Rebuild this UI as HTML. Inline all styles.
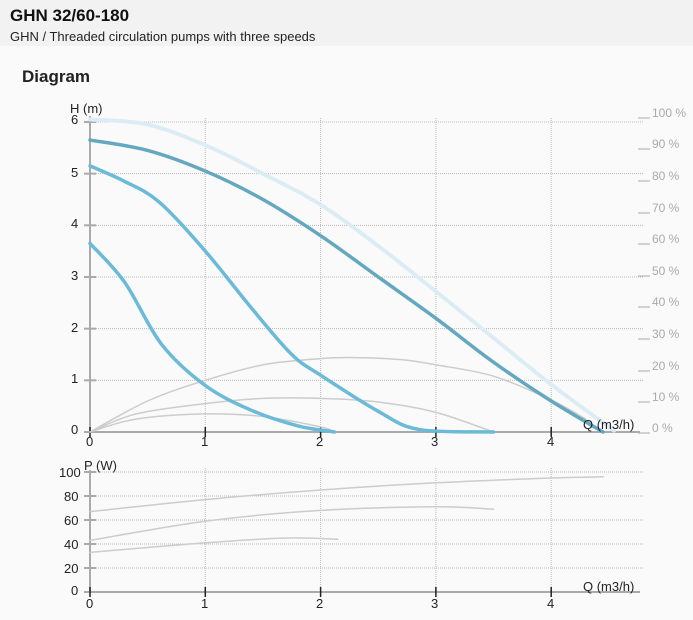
<!DOCTYPE html>
<html><head><meta charset="utf-8"><style>
body{margin:0;width:693px;height:620px;background:#fafafa;font-family:"Liberation Sans",Arial,sans-serif;overflow:hidden}
.hd{position:absolute;left:0;top:0;width:693px;height:46px;background:#f2f2f2}
.t1{position:absolute;left:10px;top:6px;font-size:17px;font-weight:bold;color:#111}
.t2{position:absolute;left:10px;top:29px;font-size:13px;color:#222}
.t3{position:absolute;left:22px;top:67px;font-size:17px;font-weight:bold;color:#222}
svg{position:absolute;left:0;top:0}
</style></head><body>
<div class="hd"></div>
<div class="t1">GHN 32/60-180</div>
<div class="t2">GHN / Threaded circulation pumps with three speeds</div>
<div class="t3">Diagram</div>
<svg width="693" height="620" font-family="Liberation Sans, Arial, sans-serif">
<g id="grid" stroke="#bbb" stroke-dasharray="1,1" stroke-width="1" fill="none"></g>
<g id="axes"></g>
<g id="curves" fill="none" stroke-linejoin="round" stroke-linecap="round"></g>
<g font-size="13" fill="#222">
<text x="70" y="113">H (m)</text>
<text x="71" y="124">6</text><text x="71" y="177">5</text><text x="71" y="228">4</text><text x="71" y="280">3</text><text x="71" y="332">2</text><text x="71" y="383">1</text><text x="71" y="434">0</text>
<text x="86" y="446">0</text><text x="201" y="446">1</text><text x="316" y="446">2</text><text x="431" y="446">3</text><text x="547" y="446">4</text>
<text x="583" y="429">Q (m3/h)</text>
<text x="84" y="470">P (W)</text>
<text x="59" y="477">100</text><text x="64" y="501">80</text><text x="64" y="525">60</text><text x="64" y="549">40</text><text x="64" y="573">20</text><text x="71" y="595">0</text>
<text x="86" y="608">0</text><text x="201" y="608">1</text><text x="316" y="608">2</text><text x="431" y="608">3</text><text x="547" y="608">4</text>
<text x="583" y="591">Q (m3/h)</text>
</g>
<g font-size="12" fill="#aaa">
<text x="652" y="117">100 %</text><text x="652" y="148">90 %</text><text x="652" y="180">80 %</text><text x="652" y="212">70 %</text><text x="652" y="243">60 %</text><text x="652" y="275">50 %</text><text x="652" y="306">40 %</text><text x="652" y="338">30 %</text><text x="652" y="370">20 %</text><text x="652" y="401">10 %</text><text x="652" y="432">0 %</text>
</g>
<g stroke="#aaa" stroke-width="1">
<line x1="638" y1="118" x2="650" y2="118"/><line x1="638" y1="149" x2="650" y2="149"/><line x1="638" y1="181" x2="650" y2="181"/><line x1="638" y1="213" x2="650" y2="213"/><line x1="638" y1="244" x2="650" y2="244"/><line x1="638" y1="276" x2="650" y2="276"/><line x1="638" y1="307" x2="650" y2="307"/><line x1="638" y1="339" x2="650" y2="339"/><line x1="638" y1="371" x2="650" y2="371"/><line x1="638" y1="402" x2="650" y2="402"/><line x1="638" y1="433" x2="650" y2="433"/>
</g>
</svg>
<script>
var NS="http://www.w3.org/2000/svg";
function el(p,t,a){var e=document.createElementNS(NS,t);for(var k in a)e.setAttribute(k,a[k]);document.getElementById(p).appendChild(e);return e;}
var X=function(q){return 90+115.3*q};
var Y=function(h){return 432-51.67*h};
var YP=function(p){return 592-1.2*p};
for(var i=1;i<=6;i++)el("grid","line",{x1:90,y1:Y(i),x2:643,y2:Y(i)});
for(var i=1;i<=4;i++)el("grid","line",{x1:X(i),y1:118,x2:X(i),y2:432});
for(var i=1;i<=5;i++)el("grid","line",{x1:90,y1:YP(i*20),x2:643,y2:YP(i*20)});
for(var i=1;i<=4;i++)el("grid","line",{x1:X(i),y1:468,x2:X(i),y2:592});
el("axes","line",{x1:90,y1:116,x2:90,y2:433,stroke:"#aaa","stroke-width":2});
el("axes","line",{x1:89,y1:432,x2:640,y2:432,stroke:"#aaa","stroke-width":2});
el("axes","line",{x1:90,y1:470,x2:90,y2:593,stroke:"#aaa","stroke-width":2});
el("axes","line",{x1:89,y1:592,x2:640,y2:592,stroke:"#aaa","stroke-width":2});
for(var i=0;i<=6;i++)el("axes","line",{x1:84,y1:Y(i),x2:96,y2:Y(i),stroke:"#aaa","stroke-width":2});
for(var i=0;i<=5;i++)el("axes","line",{x1:84,y1:YP(i*20),x2:96,y2:YP(i*20),stroke:"#aaa","stroke-width":2});
for(var i=0;i<=4;i++){el("axes","line",{x1:X(i),y1:427,x2:X(i),y2:437,stroke:"#222","stroke-width":1.5});el("axes","line",{x1:X(i),y1:587,x2:X(i),y2:597,stroke:"#222","stroke-width":1.5});}
function path(pts,fy,st){
 var P=pts.map(function(p){return [X(p[0]),fy(p[1])]});
 var d="M"+P[0][0]+","+P[0][1];
 for(var i=0;i<P.length-1;i++){var p0=P[i-1]||P[i],p1=P[i],p2=P[i+1],p3=P[i+2]||p2;
  d+=" C"+(p1[0]+(p2[0]-p0[0])/6)+","+(p1[1]+(p2[1]-p0[1])/6)+" "+(p2[0]-(p3[0]-p1[0])/6)+","+(p2[1]-(p3[1]-p1[1])/6)+" "+p2[0]+","+p2[1];}
 st.d=d;el("curves","path",st);
}
var g={stroke:"#cccccc","stroke-width":1.5};
function c(o){var r={};for(var k in o)r[k]=o[k];return r}
path([[0,0],[0.5,0.6],[1,1.0],[1.5,1.3],[2,1.42],[2.3,1.44],[2.7,1.4],[3,1.3],[3.5,1.08],[4,0.62],[4.3,0.25]],Y,c(g));
path([[0,0],[0.4,0.35],[1,0.55],[1.5,0.65],[2,0.65],[2.5,0.58],[3,0.38],[3.5,0]],Y,c(g));
path([[0,0],[0.4,0.25],[1,0.35],[1.5,0.3],[2,0.1],[2.1,0.02]],Y,c(g));
path([[0,6.05],[0.5,5.95],[1,5.55],[1.5,5.0],[2,4.4],[2.5,3.6],[3,2.72],[3.5,1.82],[4,0.92],[4.55,0.02]],Y,{stroke:"#dcecf4","stroke-width":4,"stroke-dasharray":"1.5,1.5"});
path([[0,5.65],[0.5,5.45],[1,5.05],[1.5,4.5],[2,3.8],[2.5,3.0],[3,2.2],[3.5,1.35],[4,0.6],[4.45,0]],Y,{stroke:"#64a8c0","stroke-width":3.5});
path([[0,5.15],[0.3,4.85],[0.6,4.45],[1,3.5],[1.4,2.4],[1.75,1.5],[2,1.1],[2.5,0.4],[2.85,0.05],[3.5,0]],Y,{stroke:"#6bbad8","stroke-width":3.5});
path([[0,3.65],[0.3,2.9],[0.62,1.7],[1,0.9],[1.4,0.42],[1.8,0.12],[2.12,0]],Y,{stroke:"#6bbad8","stroke-width":3.5});
path([[0,67],[1,77],[2,85],[3,91],[4,95],[4.45,96]],YP,c(g));
path([[0,43],[1,59],[2,68],[3,71],[3.5,69]],YP,c(g));
path([[0,33],[1,41],[1.7,45],[2.15,44]],YP,c(g));
</script>
</body></html>
